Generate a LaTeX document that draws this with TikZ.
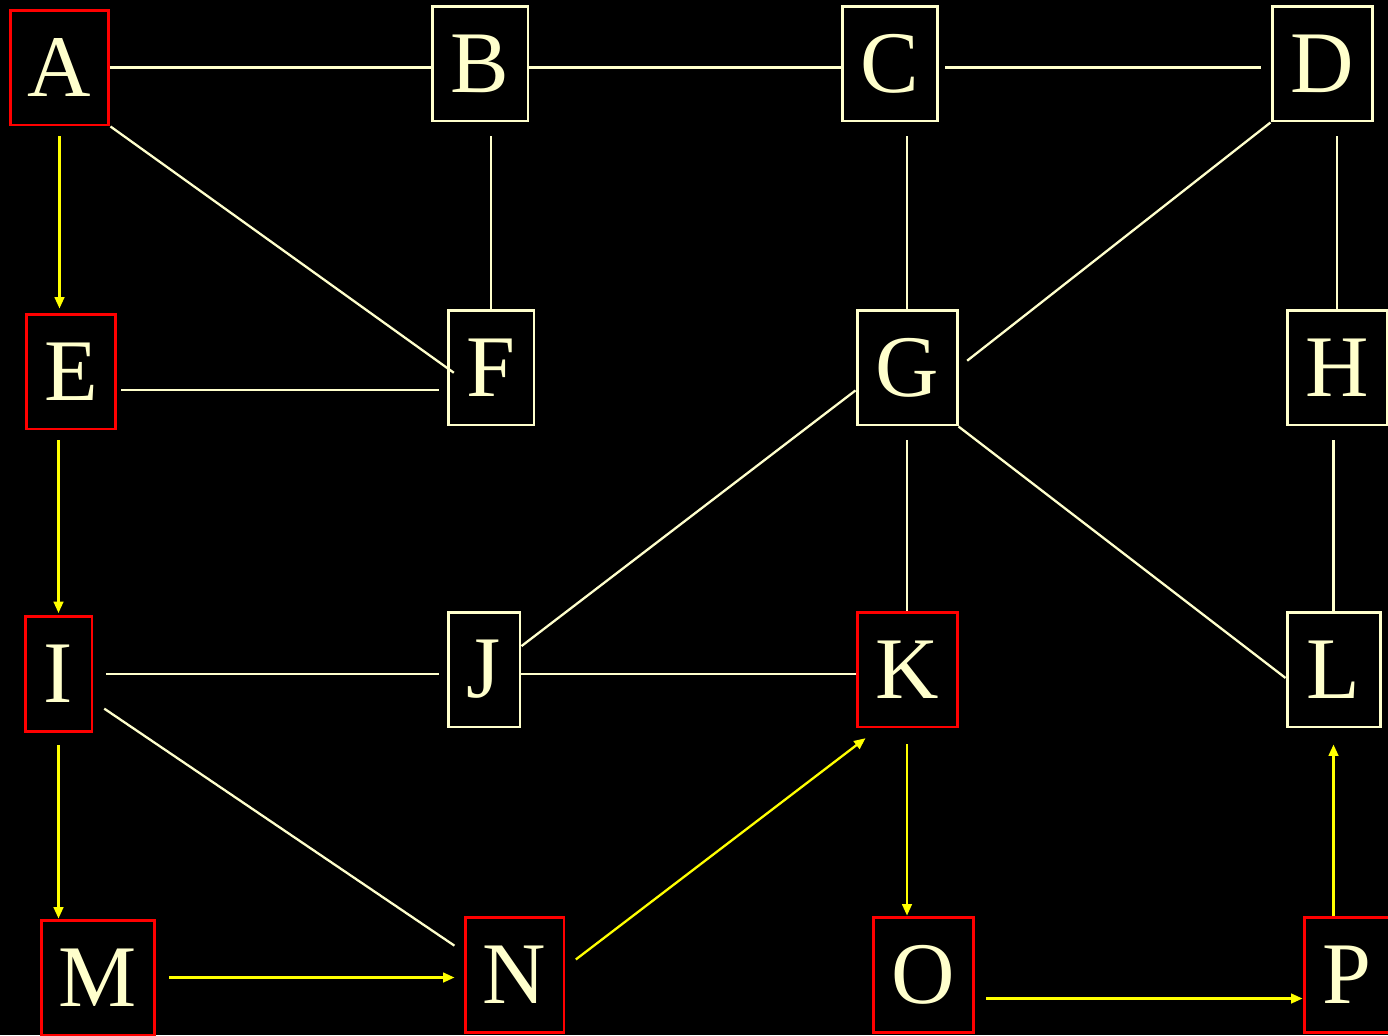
\documentclass[tikz,border=0pt]{standalone}
\usepackage{fontspec}
\setmainfont{Liberation Serif}
\usetikzlibrary{arrows.meta, calc}
\definecolor{grcream}{RGB}{255,255,204}
\definecolor{grred}{RGB}{255,0,0}
\definecolor{gryellow}{RGB}{255,255,0}
\tikzset{
    basebox/.style={rectangle, inner sep=0pt, minimum height=2.3cm, line width=1.7pt, text=grcream, font=\fontsize{50}{56}\selectfont},
    creambox/.style={basebox, draw=grcream},
    redbox/.style={basebox, draw=grred},
    link/.style={draw=grcream, line width=1.3pt},
    flow/.style={-{Triangle[length=6.5pt, width=5.5pt]}, draw=gryellow, line width=1.3pt}
}

\begin{document}
\begin{tikzpicture}[x=0.02cm, y=-0.02cm]
            % Black page
            \useasboundingbox (0,0) rectangle (1388,1035);
            \fill[black] (0,0) rectangle (1388,1035);

            % Row 1
            \node[redbox, minimum width=1.98cm] (A) at (59.5,67.5) {A};
            \node[creambox, minimum width=1.92cm] (B) at (480,63.5) {B};
            \node[creambox, minimum width=1.90cm] (C) at (889.5,63.5) {C};
            \node[creambox, minimum width=2.0cm] (D) at (1322,63.5) {D};

            % Row 2
            \node[redbox, minimum width=1.8cm] (E) at (71,371.5) {E};
            \node[creambox, minimum width=1.72cm] (F) at (491,367.5) {F};
            \node[creambox, minimum width=2.0cm] (G) at (907,367.5) {G};
            \node[creambox, minimum width=2.0cm] (H) at (1337,367.5) {H};

            % Row 3
            \node[redbox, minimum width=1.34cm] (I) at (58.5,674) {I};
            \node[creambox, minimum width=1.44cm] (J) at (484,669.5) {J};
            \node[redbox, minimum width=2.0cm] (K) at (907,669.5) {K};
            \node[creambox, minimum width=1.86cm] (L) at (1333.5,669.5) {L};

            % Row 4
            \node[redbox, minimum width=2.28cm] (M) at (98,977.5) {M};
            \node[redbox, minimum width=1.98cm] (N) at (514.5,974.5) {N};
            \node[redbox, minimum width=2.0cm] (O) at (923,974.5) {O};
            \node[redbox, minimum width=1.72cm] (P) at (1347,974.5) {P};

            % Plain edges
            \draw[link] (A.east) -- (A.east -| B.west);
            \draw[link] (B.east |- A.east) -- (C.west |- A.east);
            \draw[link, shorten <=0.14cm, shorten >=0.2cm] (C.east |- A.east) -- (D.west |- A.east);
            \draw[link, shorten >=-0.18cm] (A.south east) -- (F.west);
            \draw[link, shorten <=0.28cm] (F.north |- B.south) -- (F.north);
            \draw[link, shorten <=0.08cm, shorten >=0.16cm] (E.-22) -- (E.-22 -| F.west);
            \draw[link, shorten <=0.28cm] (G.north |- C.south) -- (G.north);
            \draw[link, shorten >=0.22cm] (D.south west) -- (G.east);
            \draw[link, shorten <=0.28cm] (H.north |- D.south) -- (H.north);
            \draw[link] (G.204) -- (J.32);
            \draw[link, shorten <=0.28cm] (K.north |- G.south) -- (K.north);
            \draw[link] (G.south east) -- (L.190);
            \draw[link, shorten <=0.28cm] (L.north |- H.south) -- (L.north);
            \draw[link, shorten <=0.26cm, shorten >=0.16cm] (I.east) -- (I.east -| J.west);
            \draw[link] (J.east |- I.east) -- (K.west |- I.east);
            \draw[link, shorten <=0.26cm, shorten >=0.22cm] (I.-38) -- (N.156);

            % Yellow path
            \draw[flow, shorten <=0.2cm, shorten >=0.08cm] (A.south) -- (A.south |- E.north);
            \draw[flow, shorten <=0.2cm, shorten >=0.04cm] (I.north |- E.south) -- (I.north);
            \draw[flow, shorten <=0.24cm] (I.south) -- (I.south |- M.north);
            \draw[flow, shorten <=0.26cm, shorten >=0.18cm] (M.east) -- (M.east -| N.west);
            \draw[flow, shorten <=0.26cm, shorten >=0.32cm] (N.8) -- (K.244);
            \draw[flow, shorten <=0.32cm] (K.south) -- (K.south |- O.north);
            \draw[flow, shorten <=0.24cm] (O.-25) -- (O.-25 -| P.west);
            \draw[flow, shorten >=0.32cm] (L.south |- P.north) -- (L.south);
\end{tikzpicture}
\end{document}
